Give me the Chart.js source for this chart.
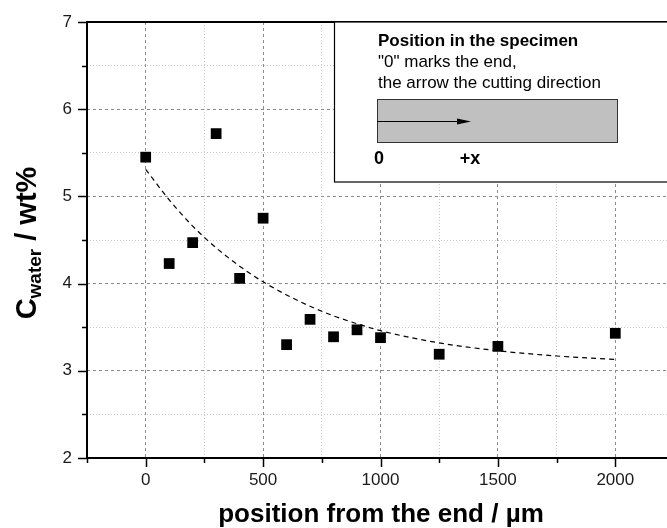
<!DOCTYPE html>
<html>
<head>
<meta charset="utf-8">
<script src="https://cdn.jsdelivr.net/npm/chart.js@4.4.1/dist/chart.umd.min.js"></script>
<style>
html, body { margin: 0; padding: 0; background: #fff; overflow: hidden; }
#wrap { width: 667px; height: 528px; overflow: hidden; }
</style>
</head>
<body>
<div id="wrap"><canvas id="waterChart" width="676" height="528"></canvas></div>
<script>
// measured water content along the specimen
const positions = [0, 100, 200, 300, 400, 500, 600, 700, 800, 900, 1000, 1250, 1500, 2000];
const waterContent = [5.45, 4.23, 4.47, 5.72, 4.06, 4.75, 3.30, 3.59, 3.39, 3.47, 3.38, 3.19, 3.28, 3.43];

// decay fit through the data
const fitPositions = [0, 100, 200, 300, 400, 500, 600, 700, 800, 900, 1000, 1250, 1500, 1750, 2000];
const fitValues = [5.31, 4.96, 4.66, 4.41, 4.20, 4.02, 3.87, 3.74, 3.63, 3.54, 3.46, 3.32, 3.23, 3.17, 3.13];

const xMajorTicks = [0, 500, 1000, 1500, 2000];
const yMajorTicks = [2, 3, 4, 5, 6, 7];

const FONT = "'Liberation Sans', Arial, sans-serif";

const isMajorX = v => xMajorTicks.includes(v);
const isMajorY = v => yMajorTicks.some(m => Math.abs(m - v) < 1e-6);

function line(ctx, x1, y1, x2, y2) {
    ctx.beginPath();
    ctx.moveTo(x1, y1);
    ctx.lineTo(x2, y2);
    ctx.stroke();
}

// axes frame, tick marks, axis titles and the specimen sketch
const decorations = {
    id: 'decorations',
    afterDraw(chart) {
        const { ctx, chartArea: a, scales: { x, y } } = chart;
        ctx.save();

        // tick marks (outside)
        ctx.strokeStyle = '#000';
        ctx.lineWidth = 1.5;
        x.ticks.forEach(t => {
            const px = Math.round(x.getPixelForValue(t.value)) + 0.5;
            line(ctx, px, a.bottom, px, a.bottom + (isMajorX(t.value) ? 9 : 5));
        });
        y.ticks.forEach(t => {
            const py = Math.round(y.getPixelForValue(t.value)) + 0.5;
            line(ctx, a.left, py, a.left - (isMajorY(t.value) ? 9 : 5), py);
        });

        // frame
        ctx.lineWidth = 2;
        line(ctx, a.left, a.top, a.left, a.bottom + 1);
        line(ctx, a.left - 1, a.bottom, a.right, a.bottom);
        line(ctx, a.left - 1, a.top, a.right, a.top);

        // specimen sketch box
        const bx = a.left + 247, by = a.top, bw = a.right - bx + 5, bh = 160;
        ctx.fillStyle = '#fff';
        ctx.fillRect(bx, by, bw, bh);
        ctx.lineWidth = 1.2;
        ctx.strokeRect(bx + 0.5, by, bw, bh);

        ctx.fillStyle = '#000';
        ctx.textAlign = 'left';
        ctx.textBaseline = 'alphabetic';
        ctx.font = 'bold 17px ' + FONT;
        ctx.fillText('Position in the specimen', bx + 44, by + 24);
        ctx.font = '17px ' + FONT;
        ctx.fillText('"0" marks the end,', bx + 44, by + 45);
        ctx.fillText('the arrow the cutting direction', bx + 44, by + 66);

        const rx = bx + 43, ry = by + 77, rw = 240, rh = 43;
        ctx.fillStyle = '#c0c0c0';
        ctx.fillRect(rx, ry, rw, rh);
        ctx.strokeStyle = '#333';
        ctx.lineWidth = 1;
        ctx.strokeRect(rx + 0.5, ry + 0.5, rw, rh);

        // cutting direction arrow
        ctx.strokeStyle = '#000';
        ctx.lineWidth = 1;
        const ay = ry + 22.5;
        line(ctx, rx, ay, rx + 82, ay);
        ctx.beginPath();
        ctx.moveTo(rx + 94, ay);
        ctx.lineTo(rx + 80, ay - 3);
        ctx.lineTo(rx + 80, ay + 3);
        ctx.closePath();
        ctx.fillStyle = '#000';
        ctx.fill();

        ctx.font = 'bold 18px ' + FONT;
        ctx.textAlign = 'center';
        ctx.fillText('0', rx + 2, by + 142);
        ctx.fillText('+x', rx + 93, by + 142);

        // x axis title
        ctx.font = 'bold 26px ' + FONT;
        ctx.textAlign = 'center';
        ctx.fillText('position from the end / \u00b5m', 381, 522);

        // y axis title with subscript
        ctx.translate(36, 243);
        ctx.rotate(-Math.PI / 2);
        const big = 'bold 29px ' + FONT, small = 'bold 19px ' + FONT;
        ctx.font = big;
        const wC = ctx.measureText('C').width;
        const wRest = ctx.measureText(' / wt%').width;
        ctx.font = small;
        const wSub = ctx.measureText('water').width;
        let cx = -(wC + wSub + wRest) / 2;
        ctx.textAlign = 'left';
        ctx.font = big;
        ctx.fillText('C', cx, 0);
        cx += wC;
        ctx.font = small;
        ctx.fillText('water', cx, 5);
        cx += wSub;
        ctx.font = big;
        ctx.fillText(' / wt%', cx, 0);

        ctx.restore();
    }
};

const ctx = document.getElementById('waterChart').getContext('2d');
const waterChart = new Chart(ctx, {
    type: 'scatter',
    data: {
        datasets: [{
            label: 'C water',
            data: positions.map((p, i) => ({ x: p, y: waterContent[i] })),
            pointStyle: 'rect',
            pointRadius: 7.6,
            pointHoverRadius: 7.6,
            backgroundColor: '#000',
            borderColor: '#000',
            borderWidth: 0
        }, {
            label: 'fit',
            data: fitPositions.map((p, i) => ({ x: p, y: fitValues[i] })),
            showLine: true,
            pointRadius: 0,
            borderColor: '#000',
            borderWidth: 1.2,
            borderDash: [5, 4],
            cubicInterpolationMode: 'monotone'
        }]
    },
    options: {
        responsive: false,
        animation: false,
        devicePixelRatio: 1,
        layout: { autoPadding: false, padding: { top: 22, right: 2, left: 0, bottom: 0 } },
        plugins: {
            legend: { display: false },
            tooltip: { enabled: false }
        },
        scales: {
            x: {
                type: 'linear',
                min: -250,
                max: 2250,
                afterFit: s => {
                    s.height = 70;
                    s.paddingLeft = 0;
                    s.paddingRight = 0;
                },
                afterBuildTicks: s => {
                    s.ticks = [];
                    for (let v = -250; v <= 2250; v += 250) s.ticks.push({ value: v });
                },
                border: {
                    display: false,
                    dash: c => (c.tick && !isMajorX(c.tick.value)) ? [1, 2] : [3, 3]
                },
                grid: {
                    drawTicks: false,
                    color: c => (c.tick && isMajorX(c.tick.value)) ? '#8c8c8c' : '#c8c8c8',
                    lineWidth: 1
                },
                ticks: {
                    autoSkip: false,
                    maxRotation: 0,
                    padding: 12,
                    color: '#1a1a1a',
                    font: { family: FONT, size: 17 },
                    callback: v => isMajorX(v) ? String(v) : ''
                }
            },
            y: {
                min: 2,
                max: 7,
                afterFit: s => {
                    s.width = 87;
                    s.paddingTop = 0;
                    s.paddingBottom = 0;
                },
                afterBuildTicks: s => {
                    s.ticks = [];
                    for (let v = 2; v <= 7.001; v += 0.5) s.ticks.push({ value: v });
                },
                border: {
                    display: false,
                    dash: c => (c.tick && !isMajorY(c.tick.value)) ? [1, 2] : [3, 3]
                },
                grid: {
                    drawTicks: false,
                    color: c => (c.tick && isMajorY(c.tick.value)) ? '#8c8c8c' : '#c8c8c8',
                    lineWidth: 1
                },
                ticks: {
                    autoSkip: false,
                    padding: 15,
                    color: '#1a1a1a',
                    font: { family: FONT, size: 17 },
                    callback: v => isMajorY(v) ? String(v) : ''
                }
            }
        }
    },
    plugins: [decorations]
});
</script>
</body>
</html>
